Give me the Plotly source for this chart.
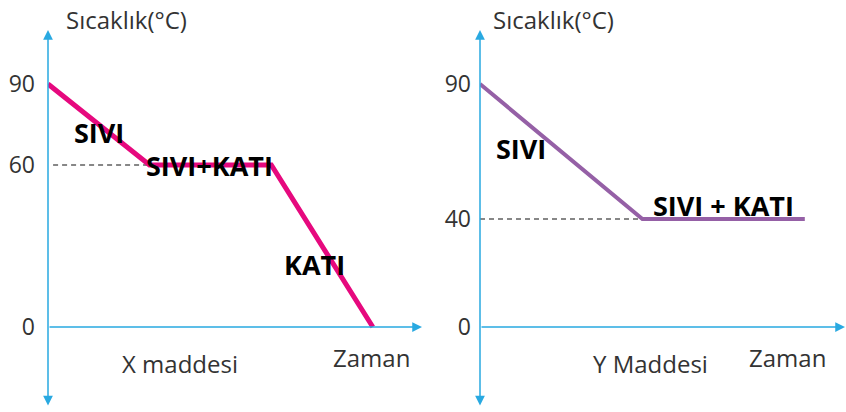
import plotly.graph_objects as go

# X maddesi (soğuma eğrisi)
x_time = [0, 5, 11, 16]
x_temp = [90, 60, 60, 0]
x_ticks = [0, 60, 90]

# Y maddesi
y_time = [0, 8, 16]
y_temp = [90, 40, 40]
y_ticks = [0, 40, 90]

axis_blue = "#29a9e1"
ink = "#333333"
font_reg = "Open Sans, Noto Sans, sans-serif"

fig = go.Figure()

# curves
fig.add_trace(go.Scatter(x=[0.25, x_time[1]], y=[60, 60], mode="lines",
                         line=dict(color="#111", width=1.2, dash="5px,4px"),
                         xaxis="x", yaxis="y", hoverinfo="skip"))
fig.add_trace(go.Scatter(x=x_time, y=x_temp, mode="lines",
                         line=dict(color="#e6097e", width=5),
                         xaxis="x", yaxis="y"))
fig.add_trace(go.Scatter(x=[0, y_time[1]], y=[40, 40], mode="lines",
                         line=dict(color="#111", width=1.2, dash="5px,4px"),
                         xaxis="x2", yaxis="y2", hoverinfo="skip"))
fig.add_trace(go.Scatter(x=y_time, y=y_temp, mode="lines",
                         line=dict(color="#9560a6", width=4),
                         xaxis="x2", yaxis="y2"))

W, H = 846, 412
px_per_t = 20.3
px_per_deg = 2.7
y_lo = -(407 - 327) / px_per_deg
y_hi = (327 - 30) / px_per_deg
ydom = [1 - 407 / H, 1 - 30 / H]

xr1 = (422 - 48) / px_per_t
xr2 = (845 - 480) / px_per_t

common_x = dict(visible=False, showgrid=False, zeroline=False)
common_y = dict(showgrid=False, zeroline=False, showline=False, ticks="",
                tickfont=dict(family=font_reg, size=23, color=ink),
                range=[y_lo, y_hi], domain=ydom)

fig.update_layout(
    width=W, height=H,
    margin=dict(l=0, r=0, t=0, b=0),
    paper_bgcolor="white", plot_bgcolor="rgba(0,0,0,0)",
    showlegend=False,
    xaxis=dict(common_x, domain=[48 / W, 422 / W], range=[0, xr1]),
    xaxis2=dict(common_x, domain=[480 / W, 845 / W], range=[0, xr2]),
    yaxis=dict(common_y, anchor="x", tickvals=x_ticks, ticklabelstandoff=12),
    yaxis2=dict(common_y, anchor="x2", tickvals=y_ticks, ticklabelstandoff=8),
)

# axis arrows
for xa, ya, xmax in [("x", "y", xr1), ("x2", "y2", xr2)]:
    fig.add_annotation(x=xmax, y=0, ax=0, ay=0, xref=xa, yref=ya,
                       axref=xa, ayref=ya, text="", showarrow=True,
                       arrowhead=2, arrowsize=1.3, arrowwidth=1.5,
                       arrowcolor=axis_blue)
    fig.add_annotation(x=0, y=y_hi, ax=0, ay=y_lo, xref=xa, yref=ya,
                       axref=xa, ayref=ya, text="", showarrow=True,
                       arrowhead=2, arrowside="end+start", arrowsize=1.3,
                       arrowwidth=1.5, arrowcolor=axis_blue)

# plain texts (paper pixel positions)
labels = [
    ("Sıcaklık(°C)", 126, 20),
    ("Sıcaklık(°C)", 553, 20),
    ("X maddesi", 180, 363),
    ("Zaman", 371, 357),
    ("Y Maddesi", 650, 363),
    ("Zaman", 787, 357),
]
for txt, cx, cy in labels:
    fig.add_annotation(
        x=cx / W, y=1 - cy / H, xref="paper", yref="paper",
        text=txt, showarrow=False, xanchor="center", yanchor="middle",
        font=dict(family=font_reg, size=24, color=ink),
    )

# phase labels, placed along the curves
phases = [
    ("SIVI", 2.5, 72, "x", "y"),
    ("SIVI+KATI", 7.98, 60, "x", "y"),
    ("KATI", 13.15, 23, "x", "y"),
    ("SIVI", 2.0, 66, "x2", "y2"),
    ("SIVI + KATI", 12.0, 45, "x2", "y2"),
]
for txt, tx, ty, xa, ya in phases:
    fig.add_annotation(
        x=tx, y=ty, xref=xa, yref=ya, text=f"<b>{txt}</b>", showarrow=False,
        xanchor="center", yanchor="middle",
        font=dict(family=font_reg, size=27, color="#000"),
    )

fig.write_html("out.html", config={"displayModeBar": False},
               post_script="document.body.style.margin='0';")
